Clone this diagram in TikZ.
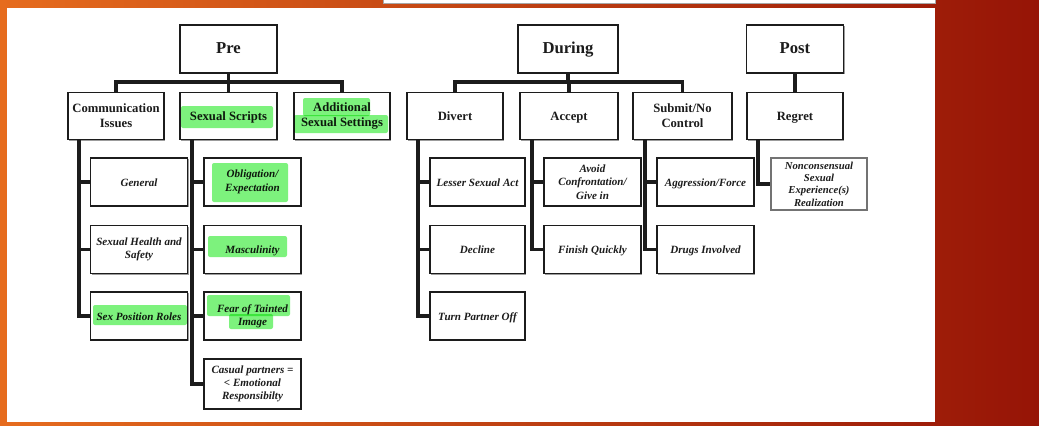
\documentclass[tikz,border=0pt]{standalone}
\usepackage{fontspec}
\setmainfont{Liberation Serif}
\usetikzlibrary{shadows}
\definecolor{hl}{RGB}{125,242,125}
\definecolor{ink}{RGB}{28,28,28}
\definecolor{bgleft}{RGB}{230,108,30}
\definecolor{bgright}{RGB}{150,20,6}
\begin{document}
\begin{tikzpicture}[x=0.75pt,y=-0.75pt,
  boxshadow/.style={drop shadow={shadow xshift=0.9pt, shadow yshift=-0.9pt, fill=black!55, opacity=0.7}},
  hbox/.style={draw=ink, fill=white, line width=1.4pt, boxshadow, minimum width=72.75pt, minimum height=36pt, inner sep=1pt, text=ink, font=\bfseries\fontsize{12.5}{15}\selectfont},
  cbox/.style={draw=ink, fill=white, line width=1.4pt, boxshadow, minimum width=72pt, minimum height=35.25pt, inner sep=1pt, align=center, text=ink, font=\bfseries\fontsize{9.5}{11.2}\selectfont},
  gbox/.style={draw=ink, fill=white, line width=1.2pt, boxshadow, minimum width=72.5pt, minimum height=36pt, inner sep=1pt, align=center, text=ink, font=\bfseries\itshape\fontsize{8.3}{10}\selectfont},
  oneline/.style={text height=0.66em, text depth=0.05em},
  conn/.style={draw=ink, line width=2.8pt, line join=miter},
  hilite/.style={fill=hl, rounded corners=1.5pt, blend mode=multiply}
]
\useasboundingbox (0,0) rectangle (1039,425);
% background
\shade[left color=bgleft, right color=bgright] (0,0) rectangle (1039,425);
\fill[white] (7,8) rectangle (935,422);
\filldraw[fill=white, draw=black!35, line width=0.6pt] (383,-2) rectangle (935,3);

\coordinate (preBus) at (228.5,82);
\coordinate (durBus) at (568,82);
\coordinate (commT) at (79,139.5);
\coordinate (scriptsT) at (192,139.5);
\coordinate (divertT) at (418,139.5);
\coordinate (acceptT) at (532,139.5);
\coordinate (submitT) at (645,139.5);
\coordinate (regretT) at (758,139.5);

% top level
\node[hbox, oneline] (pre) at (228.5,49) {Pre};
\node[hbox, oneline, minimum width=75pt] (during) at (568,49) {During};
\node[hbox, oneline] (post) at (795,49) {Post};

% second level
\node[cbox] (comm) at (116,116) {Communication\\Issues};
\node[cbox, oneline, minimum width=72.75pt] (scripts) at (228.5,116) {Sexual Scripts};
\node[cbox] (addl) at (342,116) {Additional\\Sexual Settings};
\node[cbox, oneline] (divert) at (455,116) {Divert};
\node[cbox, oneline, minimum width=73.5pt] (accept) at (569,116) {Accept};
\node[cbox, minimum width=74.25pt] (submit) at (682.5,116) {Submit/No\\Control};
\node[cbox, oneline] (regret) at (795,116) {Regret};

% third level
\node[gbox, oneline] (general) at (139,182) {General};
\node[gbox] (health) at (139,249.5) {Sexual Health and\\Safety};
\node[gbox, oneline] (roles) at (139,316) {Sex Position Roles};
\node[gbox] (oblig) at (252.5,182) {Obligation/\\Expectation};
\node[gbox, oneline] (masc) at (252.5,249.5) {Masculinity};
\node[gbox] (fear) at (252.5,316) {Fear of Tainted\\Image};
\node[gbox, minimum height=37.5pt] (casual) at (252.5,384) {Casual partners =\\< Emotional\\Responsibilty};
\node[gbox, oneline, minimum width=71.25pt] (lesser) at (477.5,182) {Lesser Sexual Act};
\node[gbox, oneline, minimum width=71.25pt] (decline) at (477.5,249.5) {Decline};
\node[gbox, oneline, minimum width=71.25pt] (turnoff) at (477.5,316) {Turn Partner Off};
\node[gbox] (avoid) at (592.5,182) {Avoid\\Confrontation/\\Give in};
\node[gbox, oneline] (finish) at (592.5,249.5) {Finish Quickly};
\node[gbox, oneline] (aggr) at (705.5,182) {Aggression/Force};
\node[gbox, oneline] (drugs) at (705.5,249.5) {Drugs Involved};
\node[gbox, draw=black!55, minimum width=72pt, minimum height=39pt, font=\bfseries\itshape\fontsize{8}{9.3}\selectfont] (noncons) at (819,184) {Nonconsensual\\Sexual\\Experience(s)\\Realization};

% connectors: top to second level
\draw[conn] (pre.south) -- (preBus);
\draw[conn] (preBus) -| (comm.north);
\draw[conn] (preBus) -| (scripts.north);
\draw[conn] (preBus) -| (addl.north);
\draw[conn] (during.south) -- (durBus);
\draw[conn] (durBus) -| (divert.north);
\draw[conn] (durBus) -| (accept.north);
\draw[conn] (durBus) -| (submit.north);
\draw[conn] (post.south) -- (regret.north);

% connectors: second to third level
\draw[conn] (commT) |- (general.west);
\draw[conn] (commT) |- (health.west);
\draw[conn] (commT) |- (roles.west);
\draw[conn] (scriptsT) |- (oblig.west);
\draw[conn] (scriptsT) |- (masc.west);
\draw[conn] (scriptsT) |- (fear.west);
\draw[conn] (scriptsT) |- (casual.west);
\draw[conn] (divertT) |- (lesser.west);
\draw[conn] (divertT) |- (decline.west);
\draw[conn] (divertT) |- (turnoff.west);
\draw[conn] (acceptT) |- (avoid.west);
\draw[conn] (acceptT) |- (finish.west);
\draw[conn] (submitT) |- (aggr.west);
\draw[conn] (submitT) |- (drugs.west);
\draw[conn] (regretT) |- (noncons.west);

% highlights (multiplied over the text)
\fill[hilite] (181,106) rectangle (273,128);
\fill[hilite] (303,98) rectangle (370,116);
\fill[hilite] (294,115) rectangle (388,133);
\fill[hilite] (212,163) rectangle (288,202);
\fill[hilite] (208,236) rectangle (287,257);
\fill[hilite] (207,295) rectangle (290,316);
\fill[hilite] (229,314) rectangle (273,329);
\fill[hilite] (93,305) rectangle (187,325);
\end{tikzpicture}
\end{document}
